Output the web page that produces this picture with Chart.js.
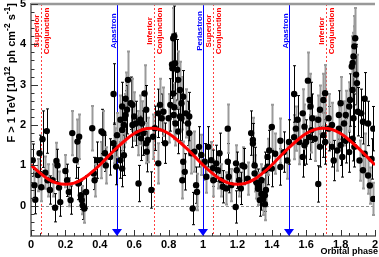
<!DOCTYPE html>
<html>
<head>
<meta charset="utf-8">
<script src="https://cdn.jsdelivr.net/npm/chart.js@4"></script>
<style>
html, body { margin: 0; padding: 0; background: #fff; }
</style>
</head>
<body>
<canvas id="lightCurve" width="379" height="257"></canvas>
<script>
// orbital phase of each run, flux above 1 TeV and its error (10^-12 ph cm^-2 s^-1)
const phase = [
  0.010, 0.020, 0.025, 0.040, 0.050, 0.060, 0.067, 0.083, 0.092, 0.096,
  0.110, 0.125, 0.140, 0.148, 0.154, 0.163, 0.170, 0.200, 0.210, 0.220,
  0.230, 0.240, 0.260, 0.270, 0.275, 0.280, 0.290, 0.295, 0.300, 0.310,
  0.320, 0.356, 0.365, 0.370, 0.385, 0.405, 0.410, 0.420, 0.430, 0.435,
  0.460, 0.480, 0.480, 0.490, 0.495, 0.500, 0.520, 0.520, 0.530, 0.530,
  0.530, 0.540, 0.540, 0.545, 0.550, 0.550, 0.558, 0.564, 0.580, 0.590,
  0.590, 0.600, 0.610, 0.620, 0.625, 0.635, 0.640, 0.645, 0.654, 0.660,
  0.670, 0.670, 0.673, 0.680, 0.700, 0.710, 0.720, 0.740, 0.740, 0.750,
  0.760, 0.770, 0.780, 0.800, 0.810, 0.820, 0.822, 0.827, 0.827, 0.830,
  0.833, 0.833, 0.837, 0.840, 0.850, 0.856, 0.856, 0.866, 0.866, 0.875,
  0.875, 0.880, 0.885, 0.885, 0.894, 0.900, 0.913, 0.920, 0.920, 0.933,
  0.940, 0.950, 0.960, 0.965, 0.977, 0.990,
  1.010, 1.020, 1.030, 1.048, 1.058, 1.060, 1.077, 1.087, 1.096, 1.106,
  1.115, 1.135, 1.144, 1.144, 1.150, 1.164, 1.190, 1.192, 1.196, 1.210,
  1.220, 1.230, 1.240, 1.260, 1.280, 1.290, 1.290, 1.300, 1.300, 1.310,
  1.320, 1.320, 1.330, 1.340, 1.340, 1.350, 1.360, 1.360, 1.360, 1.366,
  1.375, 1.375, 1.385, 1.400, 1.400, 1.420, 1.450, 1.450, 1.470, 1.490,
  1.500, 1.530, 1.530, 1.540, 1.550, 1.560, 1.580, 1.580, 1.590, 1.590,
  1.600, 1.610, 1.620, 1.620, 1.625, 1.630, 1.635, 1.650, 1.670, 1.670,
  1.680, 1.680, 1.700, 1.700, 1.710, 1.710, 1.730, 1.730, 1.750, 1.750,
  1.760, 1.780, 1.790, 1.790, 1.800, 1.800, 1.810, 1.820, 1.830, 1.830,
  1.850, 1.850, 1.855, 1.865, 1.870, 1.870, 1.870, 1.875, 1.875, 1.880,
  1.880, 1.885, 1.890, 1.895, 1.900, 1.910, 1.920, 1.930, 1.930, 1.940,
  1.940, 1.960, 1.960, 1.970, 1.980, 1.990, 1.990
]
const flux = [
  1.13, 0.51, 0.15, 0.76, 1.30, 0.46, 1.65, 0.82, 1.85, 0.63,
  0.39, 0.63, -0.05, 1.11, 1.00, 0.45, 0.09, 0.86, 0.63, 0.34,
  0.14, 1.80, 1.13, 1.59, 0.55, 1.71, 0.26, 0.14, 0.01, -0.07,
  0.34, 1.92, 0.80, 0.63, 1.13, 1.13, 1.84, 1.80, 1.30, 1.00,
  1.21, 1.55, 2.77, 1.42, 0.97, 1.75, 1.13, 2.13, 0.92, 1.88,
  2.46, 2.00, 1.25, 2.17, 2.25, 2.65, 2.38, 3.12, 2.54, 2.50,
  2.00, 2.21, 2.04, 1.80, 0.55, 2.13, 1.67, 2.04, 1.80, 2.78,
  2.38, 1.55, 1.34, 1.63, 0.39, 1.71, 1.92, 1.05, 2.29, 2.50,
  2.17, 2.33, 1.55, 2.17, 2.50, 3.50, 3.41, 4.15, 2.78, 2.25,
  4.20, 2.44, 3.53, 2.04, 3.37, 3.12, 1.84, 2.87, 2.21, 2.54,
  2.17, 0.63, 2.70, 1.09, 0.84, 2.29, 2.04, 1.80, 2.21, 1.30,
  -0.07, 1.34, 0.51, 0.34, 1.46, 1.26,
  1.09, 0.72, 1.46, 1.13, 0.93, 0.63, 1.05, 0.88, 1.30, 0.63,
  0.47, 0.43, 1.09, 1.91, 0.72, 0.51, -0.03, 1.05, 0.88, 0.63,
  0.43, 1.00, 0.97, 0.67, 1.80, 1.63, 1.54, 0.80, 1.00, 0.58,
  0.51, 0.42, 0.14, 0.63, 0.29, 0.17, 0.26, 0.04, 0.88, 0.39,
  0.97, 1.21, 1.37, 1.95, 0.92, 1.29, 0.96, 1.61, 1.33, 1.12,
  1.58, 1.70, 2.77, 1.91, 2.13, 1.58, 1.21, 2.29, 1.50, 1.96,
  1.58, 3.10, 1.70, 2.62, 2.46, 1.87, 2.17, 1.66, 0.54, 2.13,
  1.46, 2.38, 1.75, 2.62, 1.58, 2.79, 1.91, 2.17, 1.46, 2.00,
  1.12, 1.37, 2.25, 1.91, 1.50, 2.54, 1.21, 2.04, 1.61, 2.25,
  1.33, 2.46, 2.62, 3.45, 1.66, 3.54, 2.87, 3.70, 2.17, 3.95,
  1.46, 4.15, 3.25, 3.04, 2.33, 1.12, 2.29, 0.88, 2.08, 1.29,
  2.65, 0.75, 2.04, 0.50, 1.16, 0.17, 1.91
]
const fluxErr = [
  0.40, 0.35, 0.35, 0.40, 0.45, 0.35, 0.70, 0.40, 0.55, 0.40,
  0.35, 0.40, 0.35, 0.45, 0.40, 0.40, 0.35, 0.40, 0.40, 0.35,
  0.35, 0.55, 0.45, 0.55, 0.40, 0.55, 0.35, 0.35, 0.35, 0.35,
  0.40, 0.55, 0.40, 0.40, 0.45, 0.45, 0.55, 0.55, 0.45, 0.45,
  0.45, 0.50, 0.75, 0.50, 0.45, 0.55, 0.45, 0.60, 0.45, 0.55,
  0.60, 0.55, 0.50, 0.60, 0.60, 0.65, 0.60, 0.70, 0.65, 0.65,
  0.55, 0.60, 0.55, 0.55, 0.45, 0.60, 0.55, 0.55, 0.55, 0.70,
  0.60, 0.50, 0.50, 0.55, 0.45, 0.55, 0.55, 0.50, 0.60, 0.65,
  0.60, 0.60, 0.50, 0.60, 0.65, 0.75, 0.75, 0.75, 0.70, 0.60,
  0.75, 0.60, 0.75, 0.55, 0.75, 0.70, 0.55, 0.70, 0.60, 0.65,
  0.60, 0.45, 0.65, 0.50, 0.45, 0.60, 0.55, 0.55, 0.60, 0.50,
  0.40, 0.50, 0.45, 0.45, 0.50, 0.50,
  0.45, 0.40, 0.50, 0.45, 0.45, 0.40, 0.45, 0.45, 0.50, 0.40,
  0.40, 0.40, 0.45, 0.60, 0.40, 0.40, 0.40, 0.45, 0.45, 0.40,
  0.40, 0.45, 0.45, 0.40, 0.55, 0.55, 0.50, 0.45, 0.45, 0.40,
  0.40, 0.40, 0.40, 0.40, 0.40, 0.40, 0.40, 0.40, 0.45, 0.40,
  0.45, 0.45, 0.50, 0.55, 0.45, 0.50, 0.45, 0.55, 0.50, 0.45,
  0.55, 0.55, 0.70, 0.55, 0.60, 0.55, 0.50, 0.60, 0.50, 0.55,
  0.55, 0.70, 0.55, 0.65, 0.60, 0.55, 0.60, 0.55, 0.45, 0.60,
  0.50, 0.60, 0.55, 0.65, 0.55, 0.70, 0.55, 0.60, 0.50, 0.55,
  0.50, 0.50, 0.60, 0.55, 0.50, 0.65, 0.50, 0.55, 0.55, 0.60,
  0.50, 0.60, 0.65, 0.75, 0.55, 0.75, 0.70, 0.75, 0.60, 0.75,
  0.50, 0.75, 0.75, 0.70, 0.60, 0.50, 0.60, 0.45, 0.55, 0.50,
  0.65, 0.45, 0.55, 0.45, 0.50, 0.40, 0.55
]

// sine fit, every 0.05 in phase
const fitPhase = [
  0.00, 0.05, 0.10, 0.15, 0.20, 0.25, 0.30, 0.35, 0.40, 0.45,
  0.50, 0.55, 0.60, 0.65, 0.70, 0.75, 0.80, 0.85, 0.90, 0.95,
  1.00, 1.05, 1.10, 1.15, 1.20, 1.25, 1.30, 1.35, 1.40, 1.45,
  1.50, 1.55, 1.60, 1.65, 1.70, 1.75, 1.80, 1.85, 1.90, 1.95, 2.00
]
const fitFlux = [
  1.01, 0.82, 0.66, 0.56, 0.53, 0.56, 0.66, 0.82, 1.01, 1.23,
  1.44, 1.63, 1.79, 1.89, 1.92, 1.89, 1.79, 1.63, 1.44, 1.23,
  1.01, 0.82, 0.66, 0.56, 0.53, 0.56, 0.66, 0.82, 1.01, 1.23,
  1.44, 1.63, 1.79, 1.89, 1.92, 1.89, 1.79, 1.63, 1.44, 1.23, 1.01
]

// orbit markers
const conjPhase = [0.058, 0.716, 1.058, 1.716]
const conjText = ['Superior', 'Inferior', 'Superior', 'Inferior']
const orbitPhase = [0.5, 1.0, 1.5]
const orbitText = ['Apastron', 'Periastron', 'Apastron']

const xTickLabels = [0, 0.2, 0.4, 0.6, 0.8, 1, 1.2, 1.4, 1.6, 1.8, 2]
const yTickLabels = [0, 1, 2, 3, 4, 5]

const tickFont = { family: 'Liberation Sans', size: 11, weight: 'bold' }

// ROOT style decorations: inner ticks, marker lines, error bars, titles
const rootFrame = {
  id: 'rootFrame',
  beforeDatasetsDraw(chart) {
    const { ctx, chartArea: a, scales: { x, y } } = chart
    ctx.save()

    // zero level
    ctx.strokeStyle = '#8c8c8c'
    ctx.lineWidth = 1
    ctx.setLineDash([3, 2])
    ctx.beginPath()
    ctx.moveTo(a.left, Math.round(y.getPixelForValue(0)) + 0.5)
    ctx.lineTo(a.right, Math.round(y.getPixelForValue(0)) + 0.5)
    ctx.stroke()

    // conjunctions
    ctx.strokeStyle = '#ff4040'
    ctx.setLineDash([2, 2])
    conjPhase.forEach(p => {
      const px = Math.round(x.getPixelForValue(p)) + 0.5
      ctx.beginPath()
      ctx.moveTo(px, a.top)
      ctx.lineTo(px, a.bottom)
      ctx.stroke()
    })

    // apastron / periastron
    ctx.setLineDash([])
    ctx.strokeStyle = '#0000ff'
    orbitPhase.forEach(p => {
      const px = Math.round(x.getPixelForValue(p)) + 0.5
      ctx.beginPath()
      ctx.moveTo(px, a.top)
      ctx.lineTo(px, a.bottom - 5)
      ctx.stroke()
    })

    // labels
    ctx.font = 'bold 8px "Liberation Sans"'
    ctx.textAlign = 'center'
    ctx.textBaseline = 'middle'
    const drawUp = (txt, px, py, color) => {
      ctx.save()
      ctx.translate(px, py)
      ctx.rotate(-Math.PI / 2)
      ctx.fillStyle = color
      ctx.fillText(txt, 0, 0)
      ctx.restore()
    }
    conjPhase.forEach((p, i) => {
      const px = x.getPixelForValue(p)
      drawUp(conjText[i], px - 4.5, 31, '#ff0000')
      drawUp('Conjunction', px + 6, 31, '#ff0000')
    })
    orbitPhase.forEach((p, i) => {
      drawUp(orbitText[i], x.getPixelForValue(p) - 3.5, 31, '#0000ff')
    })

    // error bars, alternating black and grey as in the original
    phase.forEach((p, i) => {
      const px = Math.round(x.getPixelForValue(p)) + 0.5
      const lo = y.getPixelForValue(flux[i] - fluxErr[i])
      const hi = y.getPixelForValue(flux[i] + fluxErr[i])
      const grey = i % 2 === 1
      ctx.strokeStyle = grey ? '#9a9a9a' : '#000'
      ctx.lineWidth = grey ? 2 : 1
      ctx.beginPath()
      ctx.moveTo(px, lo)
      ctx.lineTo(px, hi)
      ctx.moveTo(px - 1.5, lo)
      ctx.lineTo(px + 1.5, lo)
      ctx.moveTo(px - 1.5, hi)
      ctx.lineTo(px + 1.5, hi)
      ctx.stroke()
    })
    ctx.restore()
  },
  afterDraw(chart) {
    const { ctx, chartArea: a, scales: { x, y } } = chart
    ctx.save()

    // top frame line
    ctx.strokeStyle = '#999'
    ctx.lineWidth = 2.5
    ctx.beginPath()
    ctx.moveTo(a.left, a.top)
    ctx.lineTo(a.right, a.top)
    ctx.stroke()

    // ticks pointing inwards
    ctx.strokeStyle = '#333'
    ctx.lineWidth = 1
    ctx.beginPath()
    for (let k = -3; k <= 25; k++) {
      const py = Math.round(y.getPixelForValue(k * 0.2)) + 0.5
      const len = k % 5 === 0 ? 7 : 3.5
      ctx.moveTo(a.left, py)
      ctx.lineTo(a.left + len, py)
    }
    for (let k = 0; k <= 40; k++) {
      const px = Math.round(x.getPixelForValue(k * 0.05)) + 0.5
      const len = k % 4 === 0 ? 6 : 3
      ctx.moveTo(px, a.bottom)
      ctx.lineTo(px, a.bottom - len)
    }
    ctx.stroke()

    // periastron / apastron arrows
    ctx.fillStyle = '#0000ff'
    orbitPhase.forEach(p => {
      const px = x.getPixelForValue(p)
      ctx.beginPath()
      ctx.moveTo(px - 5, a.bottom - 7)
      ctx.lineTo(px + 5, a.bottom - 7)
      ctx.lineTo(px, a.bottom)
      ctx.closePath()
      ctx.fill()
    })

    // axis titles
    ctx.fillStyle = '#000'
    ctx.font = 'bold 9px "Liberation Sans"'
    ctx.textAlign = 'right'
    ctx.textBaseline = 'alphabetic'
    ctx.fillText('Orbital phase', 378, 254)

    const parts = [['F > 1 TeV [10', 0], ['12', 1], [' ph cm', 0], ['-2', 1], [' s', 0], ['-1', 1], [']', 0]]
    const fontOf = sup => sup ? 'bold 8.5px "Liberation Sans"' : 'bold 11px "Liberation Sans"'
    let total = 0
    parts.forEach(([t, sup]) => { ctx.font = fontOf(sup); total += ctx.measureText(t).width })
    ctx.translate(14.5, 3)
    ctx.rotate(-Math.PI / 2)
    ctx.textAlign = 'left'
    let pos = -total
    parts.forEach(([t, sup]) => {
      ctx.font = fontOf(sup)
      ctx.fillText(t, pos, sup ? -5 : 0)
      pos += ctx.measureText(t).width
    })
    ctx.restore()
  }
}

const ctx = document.getElementById('lightCurve').getContext('2d')

new Chart(ctx, {
  type: 'scatter',
  data: {
    datasets: [
      {
        type: 'line',
        data: fitPhase.map((p, i) => ({ x: p, y: fitFlux[i] })),
        borderColor: '#ff0000',
        borderWidth: 3,
        pointRadius: 0,
        tension: 0.4,
        fill: false
      },
      {
        data: phase.map((p, i) => ({ x: p, y: flux[i] })),
        backgroundColor: '#000',
        borderColor: '#000',
        borderWidth: 0,
        pointRadius: 3.2
      }
    ]
  },
  options: {
    responsive: false,
    animation: false,
    devicePixelRatio: 1,
    layout: { padding: { top: 4, right: 3, left: 0, bottom: 0 } },
    plugins: { legend: { display: false }, tooltip: { enabled: false } },
    scales: {
      x: {
        type: 'linear',
        min: 0,
        max: 2,
        afterBuildTicks: s => { s.ticks = xTickLabels.map(v => ({ value: v })) },
        afterFit: s => { s.height = 21; s.paddingLeft = 0; s.paddingRight = 0 },
        grid: { display: true, drawOnChartArea: false, drawTicks: false },
        border: { color: '#888', width: 2 },
        ticks: {
          padding: 2,
          maxRotation: 0,
          autoSkip: false,
          color: '#000',
          font: tickFont,
          callback: v => String(+v.toFixed(1))
        }
      },
      y: {
        min: -0.75,
        max: 5,
        afterBuildTicks: s => { s.ticks = yTickLabels.map(v => ({ value: v })) },
        afterFit: s => { s.width = 31; s.paddingTop = 0; s.paddingBottom = 0 },
        grid: { display: true, drawOnChartArea: false, drawTicks: false },
        border: { color: '#888', width: 2 },
        ticks: { padding: 5, color: '#000', font: tickFont }
      }
    }
  },
  plugins: [rootFrame]
})
</script>
</body>
</html>
